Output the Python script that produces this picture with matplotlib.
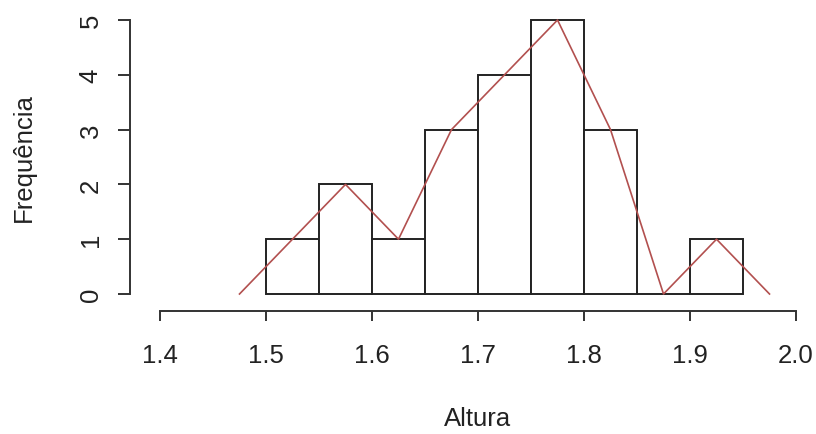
import numpy as np
import matplotlib.pyplot as plt

# histogram of heights (Altura)
bin_edges = [1.50, 1.55, 1.60, 1.65, 1.70, 1.75, 1.80, 1.85, 1.90, 1.95]
counts = [1, 2, 1, 3, 4, 5, 3, 0, 1]

# frequency polygon (class midpoints, padded with an empty class on each side)
poly_x = [1.475, 1.525, 1.575, 1.625, 1.675, 1.725, 1.775, 1.825, 1.875, 1.925, 1.975]
poly_y = [0, 1, 2, 1, 3, 4, 5, 3, 0, 1, 0]

x_ticks = [1.4, 1.5, 1.6, 1.7, 1.8, 1.9, 2.0]
y_ticks = [0, 1, 2, 3, 4, 5]

plt.rcParams["font.family"] = ["Liberation Sans", "DejaVu Sans"]

W, H = 816, 435
fig = plt.figure(figsize=(W / 100, H / 100), dpi=100)
ax = fig.add_axes([160 / W, 1 - 295 / H, (796 - 160) / W, (295 - 21) / H])

edge = "#222222"
ax.bar(bin_edges[:-1], counts, width=np.diff(bin_edges), align="edge",
       facecolor="white", edgecolor=edge, linewidth=1.4, clip_on=False)
ax.plot(poly_x, poly_y, color="#b2504f", linewidth=1.2, clip_on=False)

ax.set_xlim(1.4, 2.0)
ax.set_ylim(0, 5)
ax.set_xticks(x_ticks)
ax.set_xticklabels([f"{v:.1f}" for v in x_ticks])
ax.set_yticks(y_ticks)
ax.set_yticklabels([str(v) for v in y_ticks])

# R-style detached axes (offsets in points: 30px and 17px)
for s in ["top", "right"]:
    ax.spines[s].set_visible(False)
ax.spines["left"].set_position(("outward", 30 * 0.72))
ax.spines["bottom"].set_position(("outward", 17 * 0.72))
for s in ["left", "bottom"]:
    ax.spines[s].set_color("#333333")
    ax.spines[s].set_linewidth(1.4)

ax.tick_params(axis="both", direction="out", color="#333333", width=1.4,
               labelsize=18.5, labelcolor="#222222")
ax.tick_params(axis="y", length=8.6, pad=11, labelrotation=90)
for lab in ax.get_yticklabels():
    lab.set_va("center")
ax.tick_params(axis="x", length=7.2, pad=16)

ax.set_xlabel("Altura", fontsize=18.5, color="#222222", labelpad=28)
ax.set_ylabel("Frequência", fontsize=18.5, color="#222222", labelpad=31)

fig.savefig("out.png", dpi=100, facecolor="white")
